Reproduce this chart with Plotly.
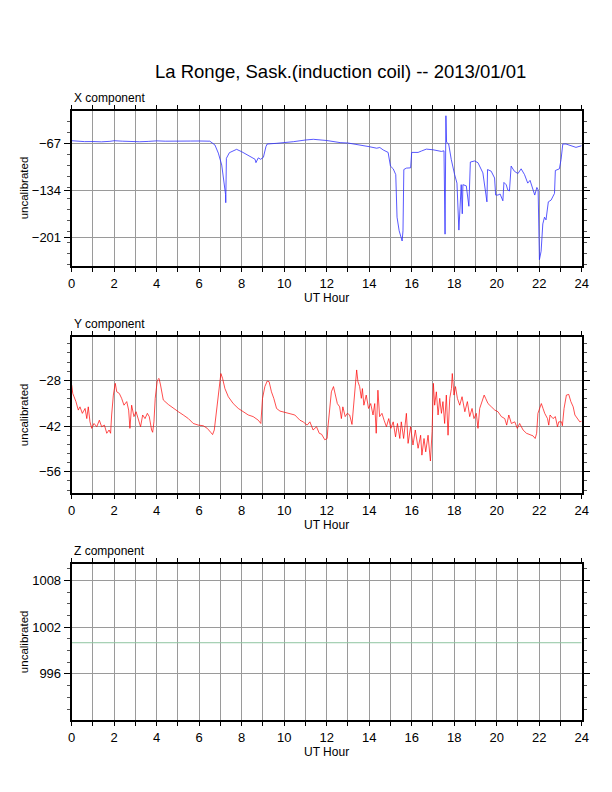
import plotly.graph_objects as go

# values, 2013/01/01
x_hours = [0.0, 0.3, 0.6, 1.0, 1.4, 1.8, 2.0, 2.4, 2.8, 3.2, 3.6, 4.0, 4.4, 4.8, 5.2, 5.6, 6.0, 6.3, 6.5,
           6.74, 6.9, 7.06, 7.18, 7.24, 7.25, 7.27, 7.28, 7.42, 7.76, 8.0, 8.39, 8.63, 8.67, 8.78, 8.89,
           9.02, 9.14, 9.2, 9.65, 10.0, 10.43, 11.0, 11.37, 12.0, 12.63, 13.0, 13.57, 14.0, 14.35, 14.5,
           14.66, 14.89, 15.0, 15.13, 15.25, 15.31, 15.41, 15.47, 15.55, 15.59, 15.63, 15.75, 15.95, 16.0,
           16.3, 16.46, 16.69, 17.0, 17.4, 17.52, 17.57, 17.61, 17.64, 17.74, 17.86, 18.02, 18.13, 18.22,
           18.29, 18.33, 18.38, 18.41, 18.57, 18.69, 18.76, 18.96, 19.12, 19.35, 19.54, 19.57, 19.74, 19.9,
           19.95, 20.06, 20.16, 20.29, 20.34, 20.45, 20.52, 20.6, 20.68, 20.83, 21.0, 21.15, 21.31, 21.46,
           21.57, 21.7, 21.79, 21.89, 21.95, 22.01, 22.09, 22.17, 22.25, 22.32, 22.43, 22.56, 22.72, 22.76,
           22.95, 23.03, 23.11, 23.26, 23.5, 23.73, 24.0]
x_values = [-63.3, -64.0, -64.6, -64.5, -64.9, -64.2, -63.3, -64.0, -64.6, -64.8, -64.3, -63.5, -64.0, -64.2,
            -64.0, -63.8, -63.7, -63.8, -64.0,
            -69.4, -81, -98, -126, -140, -151.7, -120, -88.4, -80.4, -75.6, -79, -86, -89.8, -94.6, -87.8, -89.8,
            -87, -71.8, -68, -67, -66.4, -64.7, -62.3, -61.3, -63, -66, -66.6, -69, -71.8, -74, -73,
            -76.5, -80, -99.5, -103.4, -111.7, -172.4, -191.8, -199, -206.3, -191.8, -104.4, -102.4, -102, -80,
            -80, -78, -75.3, -76.2, -78.6, -77.7, -196.6, -27.7, -65.5, -68, -89.8, -111.7, -123.8, -190.8,
            -133.5, -126, -167.5, -126, -127.7, -156.8, -93.7, -92.2, -94.7, -109.2, -150.5, -104.4, -106.8, -116.5,
            -140.8, -140.8, -139.3, -149, -122.8, -126.2, -133.5, -135, -99.5, -106.8, -110.2, -103.4, -111.7, -123.8,
            -119.9, -131, -140.8, -130, -133.5, -233, -220.9, -182, -172.4, -176.2, -150.5, -148, -138.4, -105.8,
            -103.4, -89.8, -68, -68, -70.4, -72.8, -70.4]

y_hours = [0.0, 0.05, 0.11, 0.2, 0.31, 0.39, 0.5, 0.63, 0.71, 0.78, 0.86, 0.94, 1.05, 1.18, 1.3, 1.41, 1.54,
           1.65, 1.76, 1.83, 1.88, 1.96, 2.05, 2.12, 2.24, 2.35, 2.46, 2.59, 2.68, 2.74, 2.82, 2.93, 3.03,
           3.13, 3.24, 3.34, 3.45, 3.56, 3.65, 3.76, 3.81, 3.87, 3.93, 4.03, 4.11, 4.18, 4.31, 4.55, 4.78,
           5.02, 5.25, 5.49, 5.72, 5.96, 6.19, 6.38, 6.54, 6.63, 6.71, 6.82, 6.93, 7.02, 7.1, 7.21, 7.37,
           7.6, 7.84, 8.07, 8.31, 8.54, 8.78, 8.9, 8.98, 9.09, 9.2, 9.29, 9.4, 9.51, 9.64, 9.8, 10.03,
           10.27, 10.5, 10.74, 10.89, 11.08, 11.21, 11.36, 11.52, 11.65, 11.76, 11.91, 12.02, 12.06, 12.14,
           12.22, 12.32, 12.4, 12.5, 12.61, 12.69, 12.76, 12.87, 12.97, 13.08, 13.19, 13.28, 13.35, 13.41,
           13.47, 13.55, 13.63, 13.68, 13.75, 13.86, 13.97, 14.07, 14.18, 14.26, 14.33, 14.41, 14.49, 14.6,
           14.7, 14.81, 14.92, 15.02, 15.13, 15.24, 15.33, 15.44, 15.51, 15.62, 15.75, 15.83, 15.95, 16.06,
           16.17, 16.3, 16.42, 16.48, 16.58, 16.66, 16.77, 16.88, 16.96, 17.02, 17.08, 17.16, 17.24, 17.32,
           17.4, 17.47, 17.55, 17.63, 17.71, 17.79, 17.87, 17.91, 17.99, 18.06, 18.15, 18.26, 18.37, 18.5,
           18.62, 18.73, 18.84, 18.93, 19.04, 19.12, 19.2, 19.31, 19.41, 19.48, 19.59, 19.75, 19.91, 20.06,
           20.22, 20.38, 20.47, 20.57, 20.69, 20.85, 20.97, 21.08, 21.24, 21.4, 21.56, 21.71, 21.81, 21.88,
           21.94, 22.02, 22.1, 22.18, 22.26, 22.39, 22.45, 22.51, 22.65, 22.76, 22.86, 22.92, 23.05, 23.09,
           23.17, 23.28, 23.39, 23.49, 23.6, 23.68, 23.8, 23.91, 24.0]
y_values = [-29.4, -32.0, -33.0, -34.5, -37.1, -36.1, -38.1, -36.6, -39.7, -36.1, -40.7, -42.7, -41.2, -42.2,
            -40.2, -42.2, -41.7, -44.2, -43.2, -44.2, -38.6, -32.5, -28.9, -31.5, -32.0, -33.5, -35.6, -34.5,
            -37.1, -42.7, -35.6, -39.1, -37.6, -39.7, -42.2, -38.6, -39.7, -38.1, -39.1, -43.2, -43.9, -40.7,
            -33.5, -27.9, -27.4, -29.4, -34.0, -35.4, -36.6, -37.6, -38.6, -39.7, -41.2, -41.7, -41.9, -42.7,
            -43.9, -44.6, -43.2, -36.6, -29.4, -25.9, -27.4, -30.5, -33.0, -35.1, -36.6, -37.6, -38.6, -39.1,
            -40.2, -41.2, -33.5, -29.9, -28.2, -28.4, -31.5, -33.5, -36.6, -37.4, -37.8, -38.1, -38.6, -40.2,
            -40.7, -41.7, -40.7, -43.2, -42.2, -44.2, -44.5, -46.2, -45.8, -42.2, -35.6, -31.5, -29.9, -32.5,
            -35.1, -36.1, -39.7, -36.1, -39.1, -38.1, -38.6, -41.5, -34.5, -29.4, -24.8, -28.4, -29.9, -33.5,
            -30.5, -35.6, -32.5, -36.6, -35.1, -38.6, -35.1, -44.2, -31.0, -39.1, -38.1, -40.2, -42.2, -39.7,
            -42.7, -40.7, -45.3, -41.2, -45.8, -40.7, -45.8, -38.1, -47.3, -42.2, -47.8, -43.2, -48.8, -44.8,
            -50.9, -45.8, -49.9, -44.8, -52.7, -43.7, -28.9, -35.6, -31.5, -38.6, -33.5, -38.1, -34.5, -41.2,
            -32.5, -44.8, -33.5, -30.5, -25.9, -32.5, -29.9, -33.5, -35.6, -33.0, -37.6, -34.5, -39.1, -36.6,
            -39.7, -38.1, -42.7, -36.6, -34.0, -32.5, -33.5, -35.1, -36.1, -37.1, -37.6, -39.1, -39.7, -41.7,
            -38.6, -41.2, -40.7, -42.7, -41.2, -43.2, -44.2, -44.6, -45.0, -45.8, -44.2, -38.1, -36.6, -35.1,
            -36.6, -38.1, -39.7, -41.7, -38.6, -39.7, -39.1, -42.2, -40.7, -40.7, -41.9, -36.6, -32.5, -32.3,
            -34.5, -36.1, -38.6, -39.7, -40.7, -40.5]

# Z channel is flat all day
z_hours = [0, 24]
z_values = [1000, 1000]

FONT = "Liberation Sans, Helvetica, Arial, sans-serif"
# the page puts the figure 8px in from the top-left corner of the window
OFF = 8
W, H = 612 - OFF, 792 - OFF

def px(x):
    return (x - OFF) / W

def py(y):
    return 1 - (y - OFF) / H

x_domain = [px(71.7), px(581.7)]
# (top, bottom) in window pixels for each panel
panels = [(110.7, 266.0), (337.3, 493.0), (564.0, 720.3)]
y_ranges = [[-242, -20.5], [-62.5, -14.8], [990.05, 1010.1]]
y_tick0 = [-67, -28, 996]
y_dtick = [67, 14, 6]
y_minor = [15.7, 2.8, 1.5]
names = ["X component", "Y component", "Z component"]

fig = go.Figure()
fig.add_trace(go.Scatter(x=x_hours, y=x_values, mode="lines",
                         line=dict(color="#2f2fff", width=0.8), xaxis="x", yaxis="y"))
fig.add_trace(go.Scatter(x=y_hours, y=y_values, mode="lines",
                         line=dict(color="#ff0000", width=0.7), xaxis="x2", yaxis="y2"))
fig.add_trace(go.Scatter(x=z_hours, y=z_values, mode="lines",
                         line=dict(color="#8fc4a0", width=1), xaxis="x3", yaxis="y3"))

grid = "#9a9a9a"
layout = {}
annotations = []
for i, (top, bot) in enumerate(panels):
    sfx = "" if i == 0 else str(i + 1)
    layout["xaxis" + sfx] = dict(
        domain=x_domain, anchor="y" + sfx, range=[0, 24], tick0=0, dtick=2,
        ticks="outside", ticklen=4, tickcolor="black", showline=True, linewidth=2,
        linecolor="black", mirror="ticks", showgrid=True, gridcolor=grid, gridwidth=1,
        zeroline=False, automargin=False,
        tickfont=dict(family=FONT, size=13, color="black"),
        minor=dict(tick0=0, dtick=1, ticks="outside", ticklen=4, tickcolor="black",
                   showgrid=True, gridcolor=grid, gridwidth=1),
    )
    layout["yaxis" + sfx] = dict(
        domain=[py(bot), py(top)], anchor="x" + sfx, range=y_ranges[i],
        tick0=y_tick0[i], dtick=y_dtick[i], ticks="outside", ticklen=6, tickcolor="black",
        showline=True, linewidth=2, linecolor="black", mirror="ticks",
        showgrid=True, gridcolor=grid, gridwidth=1, zeroline=False, automargin=False,
        tickfont=dict(family=FONT, size=13, color="black"),
        minor=dict(tick0=y_tick0[i], dtick=y_minor[i], ticks="outside", ticklen=3,
                   tickcolor="#555555", showgrid=False),
    )
    annotations.append(dict(text=names[i], x=px(72), y=py(top - 13), xref="paper", yref="paper",
                            xanchor="left", yanchor="middle", showarrow=False,
                            font=dict(family=FONT, size=12, color="black")))
    annotations.append(dict(text="UT Hour", x=px(326.7), y=py(bot + 32), xref="paper", yref="paper",
                            xanchor="center", yanchor="middle", showarrow=False,
                            font=dict(family=FONT, size=12, color="black")))
    annotations.append(dict(text="uncalibrated", x=px(24), y=py((top + bot) / 2), xref="paper",
                            yref="paper", xanchor="center", yanchor="middle", showarrow=False,
                            textangle=-90, font=dict(family=FONT, size=11.5, color="black")))

annotations.append(dict(text="La Ronge, Sask.(induction coil) -- 2013/01/01", x=px(340), y=py(72),
                        xref="paper", yref="paper", xanchor="center", yanchor="middle",
                        showarrow=False, font=dict(family=FONT, size=18.5, color="black")))

fig.update_layout(
    width=W, height=H,
    margin=dict(l=0, r=0, t=0, b=0),
    template="none",
    paper_bgcolor="white", plot_bgcolor="white",
    showlegend=False,
    annotations=annotations,
    **layout
)

fig.write_html("out.html")
